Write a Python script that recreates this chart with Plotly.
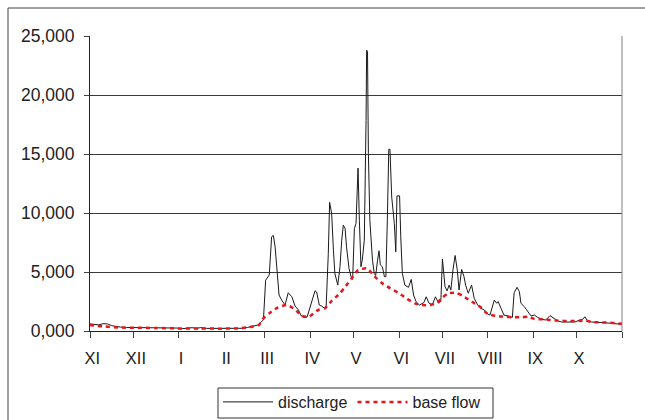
import plotly.graph_objects as go

# ---- data (hydrological year, day 0 = 1 Nov) ----
month_labels = ["XI", "XII", "I", "II", "III", "IV", "V", "VI", "VII", "VIII", "IX", "X"]
month_start_days = [0, 30, 61, 92, 120, 151, 181, 212, 242, 273, 304, 334, 365]

discharge_days = [
    0, 3, 6, 9, 12, 15, 18, 21, 25, 30, 35, 40, 45, 50, 55, 60, 62, 65, 70, 73,
    76, 80, 85, 90, 95, 100, 105, 108, 112, 115, 117, 119, 120.5, 123, 124.6, 125.8,
    127, 128, 129.7, 131.5, 133.8, 136, 138.5, 140.7, 143, 145, 147.5, 149, 151, 153,
    154.4, 155.5, 157.3, 159, 161, 162, 163.5, 164.4, 165.8, 167, 168, 170, 171.5, 172.7,
    173.8, 175, 176, 177.7, 179, 180.2, 181.4, 182.5, 183.9, 184.8, 185.9, 186.8, 188.2, 189.4,
    189.8, 190.4, 191, 192, 193.8, 195, 196, 197.3, 198.3, 199.2, 200.6, 202, 203, 204,
    205, 205.8, 207, 208.8, 209.8, 210.6, 212.4, 213.2, 214.3, 216, 218.5, 220.4, 222, 223.7,
    226, 229, 230.7, 232.5, 234.8, 237, 239, 240.7, 241.8, 243.6, 245, 246.4, 247.6, 249,
    250.5, 252, 253.2, 255, 256.6, 257.7, 259.5, 261.8, 263.6, 266, 268.2, 270.5, 272.8, 274.4,
    276, 277.4, 279, 280, 282, 284, 287, 289.8, 291, 293, 294.6, 295.7, 298, 300.3,
    302.6, 305, 307, 310, 312.7, 315.6, 318, 321, 323.7, 328, 332.7, 336, 338, 339.6,
    340.8, 344, 348.7, 353, 357.8, 362, 365,
]
discharge = [
    600, 560, 520, 620, 600, 450, 380, 330, 300, 290, 280, 290, 300, 300, 290, 250, 180, 200, 280, 230,
    290, 220, 220, 200, 200, 210, 230, 300, 400, 500, 700, 950, 4300, 4750, 7980, 8100,
    7130, 5440, 3050, 2620, 2200, 3240, 2900, 2115, 1780, 1270, 1130, 1200, 2060, 2900,
    3410, 3300, 2200, 2100, 1920, 2000, 6570, 10900, 9950, 6850, 4880, 3890, 5440, 7700,
    8970, 8700, 7130, 5300, 4650, 4370, 8690, 9100, 13800, 9390, 5440, 6000, 7700, 17850,
    23800, 23700, 15030, 9390, 6000, 4880, 4700, 6000, 6800, 5600, 5440, 4600, 4600, 9390,
    15400, 15400, 11360, 9110, 6710, 11450, 11450, 7980, 4880, 3890, 3700, 4370, 3045, 2480,
    2200, 2400, 2900, 2370, 2200, 2900, 2400, 2500, 6100, 3750, 3400, 3890, 3470, 5160,
    6400, 5160, 3470, 5220, 4600, 3890, 3200, 3890, 2770, 2200, 1920, 1780, 1440, 1350,
    2060, 2620, 2350, 2500, 1920, 1350, 1270, 1160, 3240, 3700, 3330, 2340, 2060, 1610,
    1270, 1350, 1160, 990, 930, 1300, 1100, 850, 760, 760, 760, 930, 990, 1210,
    930, 760, 700, 700, 650, 590, 560,
]

base_days = [
    0, 5, 10, 20, 30, 45, 60, 75, 90, 100, 108, 113, 116, 119, 123.5, 129, 135, 140.7, 145, 150,
    156.6, 161, 166, 171.5, 175.4, 179.5, 184, 190, 195, 200, 206, 211.5, 217, 223, 227.5, 233,
    238.5, 241, 246, 251, 256, 262, 267.6, 273, 279, 285, 290, 296, 300.7, 305, 311, 317,
    322.5, 328, 334, 340, 345, 351, 357, 361, 365,
]
base_flow = [
    500, 430, 380, 300, 270, 260, 220, 210, 200, 220, 300, 420, 520, 1070, 1550, 2000, 2200, 1830, 1300, 1200,
    1780, 1920, 2570, 3190, 3800, 4460, 5160, 5300, 4650, 4090, 3610, 3240, 2770, 2340, 2200, 2200,
    2400, 2770, 3190, 3240, 2960, 2480, 2060, 1440, 1270, 1210, 1160, 1160, 1210, 1015, 990, 930,
    870, 850, 850, 870, 760, 730, 700, 650, 620,
]

y_ticks = [0, 5000, 10000, 15000, 20000, 25000]
y_tick_text = ["0,000", "5,000", "10,000", "15,000", "20,000", "25,000"]

# ---- figure ----
FONT = "Liberation Sans, Arial, sans-serif"
W, H = 645, 420
ML, MR, MT, MB = 90, 23, 36, 89
pw, ph = W - ML - MR, H - MT - MB


def px_x(p):
    return (p - ML) / pw


def px_y(p):
    return (H - MB - p) / ph


fig = go.Figure()
fig.add_trace(go.Scatter(
    x=discharge_days, y=discharge, mode="lines", name="discharge",
    line=dict(color="#1a1a1a", width=1),
))
fig.add_trace(go.Scatter(
    x=base_days, y=base_flow, mode="lines", name="base flow",
    line=dict(color="#e8141c", width=2.5, dash="4px,4px", shape="spline", smoothing=0.6),
))

fig.update_layout(
    width=W, height=H,
    margin=dict(l=ML, r=MR, t=MT, b=MB, autoexpand=False),
    paper_bgcolor="white", plot_bgcolor="white",
    font=dict(family=FONT, size=16.5, color="#222222"),
    showlegend=True,
    legend=dict(
        orientation="h", x=px_x(218), y=px_y(385), xanchor="left", yanchor="top",
        borderwidth=0, bgcolor="rgba(0,0,0,0)",
        font=dict(family=FONT, size=16, color="#222222"),
        itemwidth=50, tracegroupgap=0,
    ),
    xaxis=dict(
        range=[0, 365], showgrid=False, zeroline=False,
        showline=True, linecolor="#222222", linewidth=1,
        tickmode="array", tickvals=[d + 1.5 for d in month_start_days[:-1]], ticktext=month_labels,
        ticks="", ticklabelstandoff=12,
        tickfont=dict(size=16.5),
        minor=dict(tickmode="array", tickvals=month_start_days, ticks="outside",
                   ticklen=6, tickcolor="#444444", tickwidth=1, showgrid=False),
        fixedrange=True,
    ),
    yaxis=dict(
        range=[0, 25000], zeroline=False,
        showgrid=True, gridcolor="#3a3a3a", gridwidth=1,
        showline=True, linecolor="#222222", linewidth=1,
        tickmode="array", tickvals=y_ticks, ticktext=y_tick_text,
        ticks="outside", ticklen=5, tickcolor="#444444", ticklabelstandoff=6,
        tickfont=dict(size=17.5),
        fixedrange=True,
    ),
    shapes=[
        dict(type="line", xref="paper", yref="paper", x0=1, x1=1, y0=0, y1=1,
             line=dict(color="#808080", width=1)),
        dict(type="rect", xref="paper", yref="paper",
             x0=px_x(8), x1=px_x(W + 20), y0=px_y(H + 20), y1=px_y(8),
             line=dict(color="#444444", width=1), layer="below"),
        dict(type="rect", xref="paper", yref="paper",
             x0=px_x(218), x1=px_x(493), y0=px_y(418), y1=px_y(388),
             line=dict(color="#333333", width=1), fillcolor="white", layer="below"),
    ],
)

fig.write_html("out.html")
